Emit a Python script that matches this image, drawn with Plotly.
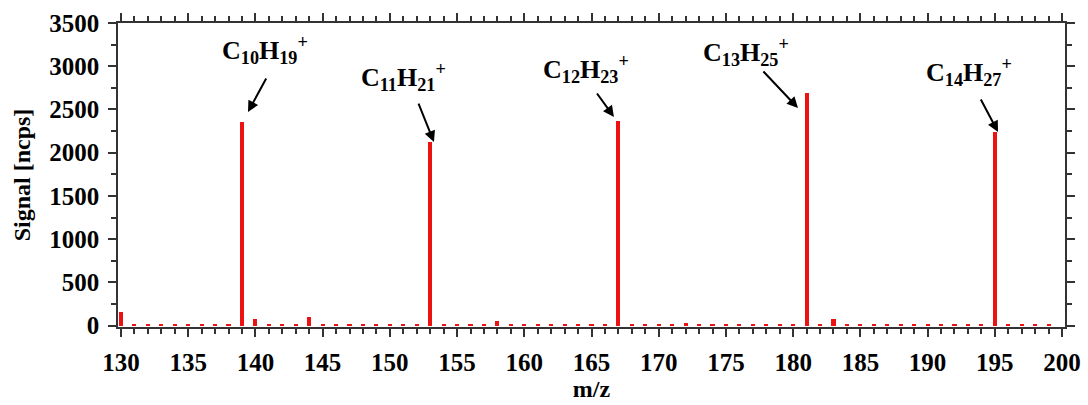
import plotly.graph_objects as go

# m/z channels and their signal (ncps)
mz = list(range(130, 201))
signal = [
    155, 10, 10, 10, 22, 10, 10, 10, 10, 2355,    # 130-139
    80, 10, 10, 10, 95, 10, 12, 10, 10, 10,       # 140-149
    10, 10, 10, 2120, 12, 10, 12, 10, 60, 10,     # 150-159
    10, 10, 10, 10, 10, 10, 10, 2365, 12, 13,     # 160-169
    12, 10, 35, 10, 10, 10, 13, 10, 10, 10,       # 170-179
    10, 2690, 12, 75, 13, 10, 13, 10, 10, 10,     # 180-189
    10, 10, 10, 10, 10, 2235, 10, 10, 12, 10,     # 190-199
    0,                                            # 200
]

# labelled ions
ion_labels = [
    "C<sub>10</sub>H<sub>19</sub><sup>+</sup>",
    "C<sub>11</sub>H<sub>21</sub><sup>+</sup>",
    "C<sub>12</sub>H<sub>23</sub><sup>+</sup>",
    "C<sub>13</sub>H<sub>25</sub><sup>+</sup>",
    "C<sub>14</sub>H<sub>27</sub><sup>+</sup>",
]

x_ticks = list(range(130, 201, 5))
y_ticks = list(range(0, 3501, 500))

FONT = "Liberation Serif"
AXIS_COLOR = "#333333"

fig = go.Figure()
fig.add_trace(go.Bar(
    x=mz, y=signal, width=0.3,
    marker=dict(color="#ee1111", line=dict(width=0)),
))

# label centres (data coords) and arrow head / tail offsets (px)
label_pos = [(140.7, 3188), (150.98, 2876), (164.6, 2968), (176.5, 3165), (193.1, 2934)]
arrow_head = [(139.45, 2471), (153.28, 2124), (166.67, 2413), (180.36, 2517), (195.24, 2240)]
arrow_tail = [(19, -35), (-16, -40), (-18, -25), (-36, -38), (-18, -34)]

annotations = []
for text, (lx, ly) in zip(ion_labels, label_pos):
    annotations.append(dict(
        x=lx, y=ly, xref="x", yref="y", text=text, showarrow=False,
        font=dict(family=FONT, size=26, color="black", weight="bold"),
        xanchor="center", yanchor="middle",
    ))
for (hx, hy), (ax, ay) in zip(arrow_head, arrow_tail):
    annotations.append(dict(
        x=hx, y=hy, xref="x", yref="y", text="", showarrow=True,
        ax=ax, ay=ay, arrowhead=2, arrowsize=1.1, arrowwidth=2,
        arrowcolor="black", standoff=0,
    ))

axis_common = dict(
    showline=True, linecolor=AXIS_COLOR, linewidth=1.5, mirror="ticks",
    ticks="outside", ticklen=8, tickwidth=1.5, tickcolor=AXIS_COLOR,
    showgrid=False, zeroline=False, automargin=False,
    tickfont=dict(family=FONT, size=25, color="black", weight="bold"),
)

fig.update_layout(
    width=1088, height=405,
    margin=dict(l=118, r=23, t=23, b=78),
    paper_bgcolor="white", plot_bgcolor="white",
    showlegend=False, bargap=0,
    annotations=annotations,
    xaxis=dict(
        axis_common, range=[129.78, 200.22], tickvals=x_ticks,
        ticktext=[str(v) for v in x_ticks],
        minor=dict(dtick=1, ticklen=5, tickwidth=1.5, tickcolor=AXIS_COLOR, ticks="outside"),
        title=dict(text="m/z", font=dict(family=FONT, size=24, color="black", weight="bold"), standoff=4),
        ticklabelstandoff=4,
    ),
    yaxis=dict(
        axis_common, range=[-15, 3500], tickvals=y_ticks,
        ticktext=[str(v) for v in y_ticks],
        minor=dict(dtick=250, ticklen=5, tickwidth=1.5, tickcolor=AXIS_COLOR, ticks="outside"),
        title=dict(text="Signal [ncps]", font=dict(family=FONT, size=24, color="black", weight="bold"), standoff=12),
        ticklabelstandoff=4,
    ),
)

fig.write_html("out.html")
